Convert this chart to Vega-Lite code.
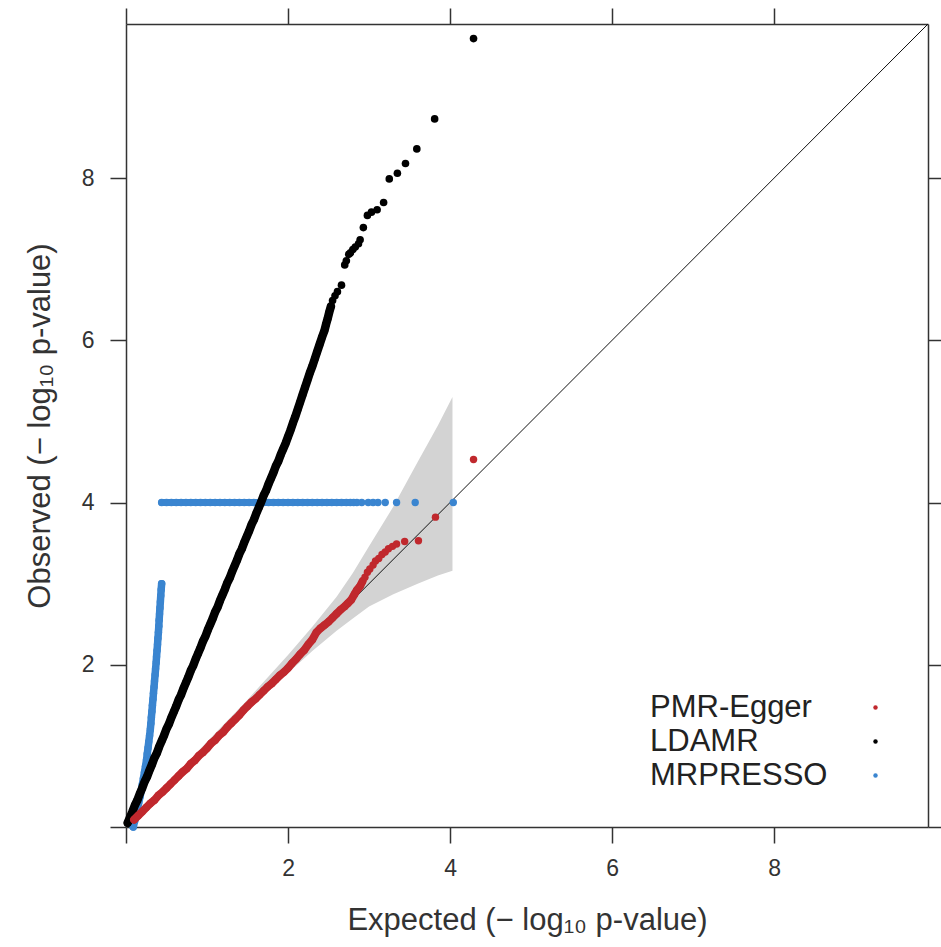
{
  "$schema": "https://vega.github.io/schema/vega-lite/v6.json",
  "width": 802,
  "height": 803,
  "autosize": {"type": "none"},
  "padding": {"left": 126, "top": 24, "right": 13, "bottom": 120},
  "background": "white",
  "config": {
    "view": {"stroke": null},
    "font": "Liberation Sans",
    "axis": {
      "grid": false,
      "domainColor": "#333333",
      "domainWidth": 1.5,
      "tickColor": "#333333",
      "tickWidth": 1.5,
      "tickSize": 16,
      "labelFont": "Liberation Sans",
      "labelFontSize": 23,
      "labelColor": "#333333",
      "titleFont": "Liberation Sans, DejaVu Sans",
      "titleFontSize": 31,
      "titleFontWeight": "normal",
      "titleColor": "#333333"
    }
  },
  "datasets": {
    "band": [
      {"x": 0, "lo": 0, "hi": 0},
      {"x": 0.5, "lo": 0.48, "hi": 0.52},
      {"x": 1.0, "lo": 0.96, "hi": 1.05},
      {"x": 1.5, "lo": 1.44, "hi": 1.57},
      {"x": 2.0, "lo": 1.9, "hi": 2.12},
      {"x": 2.3, "lo": 2.17, "hi": 2.47},
      {"x": 2.6, "lo": 2.42, "hi": 2.84},
      {"x": 2.8, "lo": 2.57, "hi": 3.13},
      {"x": 3.0, "lo": 2.72, "hi": 3.46},
      {"x": 3.3, "lo": 2.87, "hi": 3.95},
      {"x": 3.6, "lo": 3.0, "hi": 4.5},
      {"x": 3.85, "lo": 3.1, "hi": 4.95},
      {"x": 4.03, "lo": 3.16, "hi": 5.3}
    ],
    "diag": [{"x": 0, "y": 0}, {"x": 9.9, "y": 9.9}],
    "blue": [
      {"x": 0.09, "y": 0}, {"x": 0.107, "y": 0.075}, {"x": 0.124, "y": 0.15}, {"x": 0.141, "y": 0.225},
      {"x": 0.157, "y": 0.3}, {"x": 0.174, "y": 0.375}, {"x": 0.189, "y": 0.45}, {"x": 0.202, "y": 0.525},
      {"x": 0.215, "y": 0.6}, {"x": 0.228, "y": 0.675}, {"x": 0.241, "y": 0.75}, {"x": 0.253, "y": 0.825},
      {"x": 0.262, "y": 0.9}, {"x": 0.272, "y": 0.975}, {"x": 0.281, "y": 1.05}, {"x": 0.291, "y": 1.125},
      {"x": 0.3, "y": 1.2}, {"x": 0.307, "y": 1.275}, {"x": 0.313, "y": 1.35}, {"x": 0.32, "y": 1.425},
      {"x": 0.326, "y": 1.5}, {"x": 0.333, "y": 1.575}, {"x": 0.339, "y": 1.65}, {"x": 0.346, "y": 1.725},
      {"x": 0.352, "y": 1.8}, {"x": 0.359, "y": 1.875}, {"x": 0.365, "y": 1.95}, {"x": 0.372, "y": 2.025},
      {"x": 0.377, "y": 2.1}, {"x": 0.383, "y": 2.175}, {"x": 0.389, "y": 2.25}, {"x": 0.394, "y": 2.325},
      {"x": 0.4, "y": 2.4}, {"x": 0.405, "y": 2.475}, {"x": 0.409, "y": 2.55}, {"x": 0.414, "y": 2.625},
      {"x": 0.419, "y": 2.7}, {"x": 0.424, "y": 2.775}, {"x": 0.429, "y": 2.85}, {"x": 0.434, "y": 2.925},
      {"x": 0.44, "y": 3.0},
      {"x": 0.44, "y": 4}, {"x": 0.5, "y": 4}, {"x": 0.56, "y": 4}, {"x": 0.62, "y": 4}, {"x": 0.68, "y": 4},
      {"x": 0.74, "y": 4}, {"x": 0.8, "y": 4}, {"x": 0.86, "y": 4}, {"x": 0.92, "y": 4}, {"x": 0.98, "y": 4},
      {"x": 1.04, "y": 4}, {"x": 1.1, "y": 4}, {"x": 1.16, "y": 4}, {"x": 1.22, "y": 4}, {"x": 1.28, "y": 4},
      {"x": 1.34, "y": 4}, {"x": 1.4, "y": 4}, {"x": 1.46, "y": 4}, {"x": 1.52, "y": 4}, {"x": 1.58, "y": 4},
      {"x": 1.64, "y": 4}, {"x": 1.7, "y": 4}, {"x": 1.76, "y": 4}, {"x": 1.82, "y": 4}, {"x": 1.88, "y": 4},
      {"x": 1.94, "y": 4}, {"x": 2.0, "y": 4}, {"x": 2.06, "y": 4}, {"x": 2.12, "y": 4}, {"x": 2.18, "y": 4},
      {"x": 2.24, "y": 4}, {"x": 2.3, "y": 4}, {"x": 2.36, "y": 4}, {"x": 2.42, "y": 4}, {"x": 2.48, "y": 4},
      {"x": 2.54, "y": 4}, {"x": 2.6, "y": 4}, {"x": 2.66, "y": 4}, {"x": 2.72, "y": 4}, {"x": 2.77, "y": 4},
      {"x": 2.81, "y": 4}, {"x": 2.85, "y": 4}, {"x": 2.91, "y": 4}, {"x": 2.99, "y": 4}, {"x": 3.05, "y": 4},
      {"x": 3.11, "y": 4}, {"x": 3.2, "y": 4}, {"x": 3.34, "y": 4}, {"x": 3.57, "y": 4}, {"x": 4.04, "y": 4}
    ],
    "black": [
      {"x": 0.02, "y": 0.05}, {"x": 0.05, "y": 0.12}, {"x": 0.08, "y": 0.19}, {"x": 0.11, "y": 0.27},
      {"x": 0.14, "y": 0.33}, {"x": 0.17, "y": 0.41}, {"x": 0.2, "y": 0.48}, {"x": 0.23, "y": 0.56},
      {"x": 0.26, "y": 0.62}, {"x": 0.29, "y": 0.7}, {"x": 0.32, "y": 0.77}, {"x": 0.35, "y": 0.85},
      {"x": 0.38, "y": 0.91}, {"x": 0.41, "y": 0.99}, {"x": 0.44, "y": 1.06}, {"x": 0.47, "y": 1.13},
      {"x": 0.5, "y": 1.21}, {"x": 0.53, "y": 1.27}, {"x": 0.56, "y": 1.35}, {"x": 0.59, "y": 1.42},
      {"x": 0.62, "y": 1.49}, {"x": 0.65, "y": 1.57}, {"x": 0.68, "y": 1.63}, {"x": 0.71, "y": 1.71},
      {"x": 0.74, "y": 1.78}, {"x": 0.77, "y": 1.85}, {"x": 0.8, "y": 1.93}, {"x": 0.83, "y": 1.99},
      {"x": 0.86, "y": 2.07}, {"x": 0.89, "y": 2.14}, {"x": 0.92, "y": 2.21}, {"x": 0.95, "y": 2.29},
      {"x": 0.98, "y": 2.35}, {"x": 1.01, "y": 2.43}, {"x": 1.04, "y": 2.5}, {"x": 1.07, "y": 2.57},
      {"x": 1.1, "y": 2.65}, {"x": 1.13, "y": 2.71}, {"x": 1.16, "y": 2.79}, {"x": 1.19, "y": 2.86},
      {"x": 1.22, "y": 2.93}, {"x": 1.25, "y": 3.01}, {"x": 1.28, "y": 3.07}, {"x": 1.31, "y": 3.15},
      {"x": 1.34, "y": 3.22}, {"x": 1.37, "y": 3.29}, {"x": 1.4, "y": 3.37}, {"x": 1.43, "y": 3.43},
      {"x": 1.46, "y": 3.51}, {"x": 1.49, "y": 3.58}, {"x": 1.52, "y": 3.65}, {"x": 1.55, "y": 3.73},
      {"x": 1.58, "y": 3.79}, {"x": 1.61, "y": 3.87}, {"x": 1.64, "y": 3.94}, {"x": 1.67, "y": 4.01},
      {"x": 1.7, "y": 4.09}, {"x": 1.73, "y": 4.15}, {"x": 1.76, "y": 4.23}, {"x": 1.79, "y": 4.3},
      {"x": 1.82, "y": 4.37}, {"x": 1.85, "y": 4.45}, {"x": 1.88, "y": 4.51}, {"x": 1.91, "y": 4.59},
      {"x": 1.94, "y": 4.66}, {"x": 1.97, "y": 4.73}, {"x": 2.0, "y": 4.81}, {"x": 2.03, "y": 4.89},
      {"x": 2.06, "y": 4.98}, {"x": 2.09, "y": 5.06}, {"x": 2.12, "y": 5.15}, {"x": 2.15, "y": 5.24},
      {"x": 2.18, "y": 5.33}, {"x": 2.21, "y": 5.42}, {"x": 2.24, "y": 5.51}, {"x": 2.27, "y": 5.6},
      {"x": 2.3, "y": 5.68}, {"x": 2.33, "y": 5.77}, {"x": 2.36, "y": 5.86}, {"x": 2.39, "y": 5.95},
      {"x": 2.42, "y": 6.04}, {"x": 2.45, "y": 6.12}, {"x": 2.47, "y": 6.2}, {"x": 2.49, "y": 6.27},
      {"x": 2.51, "y": 6.35}, {"x": 2.53, "y": 6.42}, {"x": 2.55, "y": 6.49}, {"x": 2.58, "y": 6.55},
      {"x": 2.61, "y": 6.6}, {"x": 2.66, "y": 6.68}, {"x": 2.7, "y": 6.93}, {"x": 2.72, "y": 6.98},
      {"x": 2.75, "y": 7.06}, {"x": 2.77, "y": 7.08}, {"x": 2.8, "y": 7.12}, {"x": 2.83, "y": 7.15},
      {"x": 2.87, "y": 7.19}, {"x": 2.89, "y": 7.24}, {"x": 2.93, "y": 7.39}, {"x": 2.98, "y": 7.54},
      {"x": 3.03, "y": 7.58}, {"x": 3.1, "y": 7.61}, {"x": 3.18, "y": 7.7}, {"x": 3.25, "y": 7.99},
      {"x": 3.35, "y": 8.06}, {"x": 3.45, "y": 8.18}, {"x": 3.59, "y": 8.36}, {"x": 3.81, "y": 8.73},
      {"x": 4.29, "y": 9.72}
    ],
    "red": [
      {"x": 0.1, "y": 0.09}, {"x": 0.15, "y": 0.14}, {"x": 0.2, "y": 0.19}, {"x": 0.25, "y": 0.24},
      {"x": 0.3, "y": 0.29}, {"x": 0.35, "y": 0.33}, {"x": 0.4, "y": 0.39}, {"x": 0.45, "y": 0.43},
      {"x": 0.5, "y": 0.48}, {"x": 0.55, "y": 0.53}, {"x": 0.6, "y": 0.58}, {"x": 0.65, "y": 0.63},
      {"x": 0.7, "y": 0.68}, {"x": 0.75, "y": 0.72}, {"x": 0.8, "y": 0.78}, {"x": 0.85, "y": 0.82},
      {"x": 0.9, "y": 0.88}, {"x": 0.95, "y": 0.92}, {"x": 1.0, "y": 0.97}, {"x": 1.05, "y": 1.03},
      {"x": 1.1, "y": 1.07}, {"x": 1.15, "y": 1.13}, {"x": 1.2, "y": 1.17}, {"x": 1.25, "y": 1.23},
      {"x": 1.3, "y": 1.28}, {"x": 1.35, "y": 1.33}, {"x": 1.4, "y": 1.38}, {"x": 1.45, "y": 1.44},
      {"x": 1.5, "y": 1.49}, {"x": 1.55, "y": 1.54}, {"x": 1.6, "y": 1.58}, {"x": 1.65, "y": 1.63},
      {"x": 1.7, "y": 1.68}, {"x": 1.75, "y": 1.73}, {"x": 1.8, "y": 1.77}, {"x": 1.85, "y": 1.82},
      {"x": 1.9, "y": 1.87}, {"x": 1.95, "y": 1.91}, {"x": 2.0, "y": 1.96}, {"x": 2.05, "y": 2.02},
      {"x": 2.1, "y": 2.07}, {"x": 2.15, "y": 2.13}, {"x": 2.2, "y": 2.18}, {"x": 2.25, "y": 2.25},
      {"x": 2.3, "y": 2.31}, {"x": 2.35, "y": 2.4}, {"x": 2.4, "y": 2.45}, {"x": 2.45, "y": 2.49},
      {"x": 2.5, "y": 2.53}, {"x": 2.55, "y": 2.58}, {"x": 2.6, "y": 2.63}, {"x": 2.65, "y": 2.68},
      {"x": 2.7, "y": 2.72}, {"x": 2.74, "y": 2.76}, {"x": 2.78, "y": 2.8}, {"x": 2.82, "y": 2.87},
      {"x": 2.85, "y": 2.92}, {"x": 2.89, "y": 2.97}, {"x": 2.92, "y": 3.03}, {"x": 2.95, "y": 3.08},
      {"x": 2.98, "y": 3.14}, {"x": 3.01, "y": 3.18}, {"x": 3.05, "y": 3.23}, {"x": 3.08, "y": 3.28},
      {"x": 3.12, "y": 3.31}, {"x": 3.16, "y": 3.36}, {"x": 3.2, "y": 3.39}, {"x": 3.24, "y": 3.43},
      {"x": 3.29, "y": 3.46}, {"x": 3.34, "y": 3.49}, {"x": 3.44, "y": 3.52}, {"x": 3.61, "y": 3.53},
      {"x": 3.82, "y": 3.82}, {"x": 4.29, "y": 4.53}
    ]
  },
  "layer": [
    {
      "data": {"name": "band"},
      "mark": {"type": "area", "color": "#d3d3d3", "opacity": 1},
      "encoding": {
        "x": {
          "field": "x", "type": "quantitative",
          "scale": {"domain": [0, 9.9], "nice": false, "zero": false},
          "axis": {
            "orient": "bottom", "values": [0, 2, 4, 6, 8],
            "labelExpr": "datum.value == 0 ? '' : datum.label",
            "labelPadding": 14,
            "title": "Expected (− log₁₀ p-value)",
            "titlePadding": 25
          }
        },
        "y": {
          "field": "hi", "type": "quantitative",
          "scale": {"domain": [0, 9.9], "nice": false, "zero": false},
          "axis": {
            "orient": "left", "values": [0, 2, 4, 6, 8],
            "labelExpr": "datum.value == 0 ? '' : datum.label",
            "labelPadding": 16,
            "title": "Observed (− log₁₀ p-value)",
            "titlePadding": 25
          }
        },
        "y2": {"field": "lo"}
      }
    },
    {
      "data": {"name": "diag"},
      "mark": {"type": "line", "color": "#111111", "strokeWidth": 1},
      "encoding": {
        "x": {"field": "x", "type": "quantitative", "axis": {"orient": "top", "values": [0, 2, 4, 6, 8], "labels": false, "title": null}},
        "y": {"field": "y", "type": "quantitative", "axis": {"orient": "right", "values": [0, 2, 4, 6, 8], "labels": false, "title": null}}
      }
    },
    {
      "data": {"name": "blue"},
      "transform": [{"filter": "datum.y <= 3"}],
      "mark": {"type": "line", "color": "#3a85d0", "strokeWidth": 7.5, "strokeCap": "round"},
      "encoding": {
        "x": {"field": "x", "type": "quantitative", "axis": null},
        "y": {"field": "y", "type": "quantitative", "axis": null},
        "order": {"field": "y"}
      }
    },
    {
      "data": {"name": "blue"},
      "transform": [{"filter": "datum.y == 4 && datum.x <= 2.8"}],
      "mark": {"type": "line", "color": "#3a85d0", "strokeWidth": 7, "strokeCap": "round"},
      "encoding": {
        "x": {"field": "x", "type": "quantitative", "axis": null},
        "y": {"field": "y", "type": "quantitative", "axis": null}
      }
    },
    {
      "data": {"name": "blue"},
      "mark": {"type": "circle", "size": 55, "opacity": 1},
      "encoding": {
        "x": {"field": "x", "type": "quantitative", "axis": null},
        "y": {"field": "y", "type": "quantitative", "axis": null},
        "color": {
          "datum": "MRPRESSO", "type": "nominal",
          "scale": {"domain": ["PMR-Egger", "LDAMR", "MRPRESSO"], "range": ["#c0282d", "#000000", "#3a85d0"]},
          "legend": {
            "title": null, "orient": "none", "legendX": 525, "legendY": 668,
            "symbolType": "circle", "symbolSize": 20, "symbolStrokeWidth": 0,
            "labelFont": "Liberation Sans", "labelFontSize": 31, "labelColor": "#222222",
            "labelOffset": -241, "symbolOffset": 209, "rowPadding": 2, "padding": 0, "labelLimit": 400
          }
        }
      }
    },
    {
      "data": {"name": "black"},
      "transform": [{"filter": "datum.x <= 2.53"}],
      "mark": {"type": "line", "color": "#000000", "strokeWidth": 8.5, "strokeCap": "round"},
      "encoding": {
        "x": {"field": "x", "type": "quantitative", "axis": null},
        "y": {"field": "y", "type": "quantitative", "axis": null}
      }
    },
    {
      "data": {"name": "black"},
      "mark": {"type": "circle", "size": 58, "opacity": 1},
      "encoding": {
        "x": {"field": "x", "type": "quantitative", "axis": null},
        "y": {"field": "y", "type": "quantitative", "axis": null},
        "color": {"datum": "LDAMR", "type": "nominal"}
      }
    },
    {
      "data": {"name": "red"},
      "transform": [{"filter": "datum.x <= 2.92"}],
      "mark": {"type": "line", "color": "#c0282d", "strokeWidth": 8, "strokeCap": "round"},
      "encoding": {
        "x": {"field": "x", "type": "quantitative", "axis": null},
        "y": {"field": "y", "type": "quantitative", "axis": null}
      }
    },
    {
      "data": {"name": "red"},
      "mark": {"type": "circle", "size": 55, "opacity": 1},
      "encoding": {
        "x": {"field": "x", "type": "quantitative", "axis": null},
        "y": {"field": "y", "type": "quantitative", "axis": null},
        "color": {"datum": "PMR-Egger", "type": "nominal"}
      }
    }
  ],
  "resolve": {"axis": {"x": "independent", "y": "independent"}}
}
